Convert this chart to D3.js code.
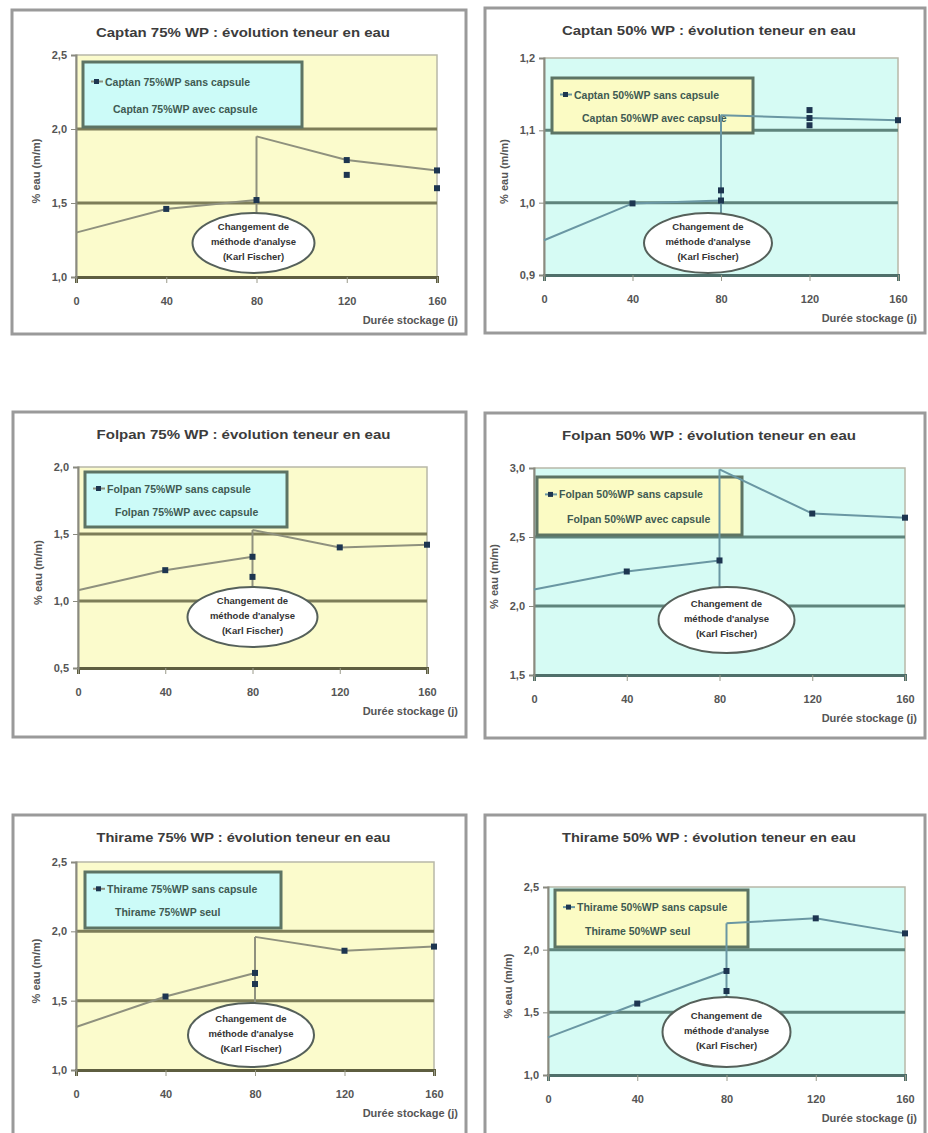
<!DOCTYPE html>
<html>
<head>
<meta charset="utf-8">
<script src="https://cdn.jsdelivr.net/npm/d3@7"></script>
<style>
  html, body { margin: 0; padding: 0; background: #ffffff; }
  svg { display: block; font-family: "Liberation Sans", Arial, sans-serif; }
</style>
</head>
<body>
<svg id="chart" width="928" height="1133"></svg>
<script>
// ---- Data -------------------------------------------------------------
const dayTicks = [0, 40, 80, 120, 160];
const beforeDays = [0, 40, 80];
const afterDays = [80, 120, 160];

const titles = [
  "Captan 75% WP : évolution teneur en eau",
  "Captan 50% WP : évolution teneur en eau",
  "Folpan 75% WP : évolution teneur en eau",
  "Folpan 50% WP : évolution teneur en eau",
  "Thirame 75% WP : évolution teneur en eau",
  "Thirame 50% WP : évolution teneur en eau"
];
const legendFirst = [
  "Captan 75%WP sans capsule", "Captan 50%WP sans capsule",
  "Folpan 75%WP sans capsule", "Folpan 50%WP sans capsule",
  "Thirame 75%WP sans capsule", "Thirame 50%WP sans capsule"
];
const legendSecond = [
  "Captan 75%WP avec capsule", "Captan 50%WP avec capsule",
  "Folpan 75%WP avec capsule", "Folpan 50%WP avec capsule",
  "Thirame 75%WP seul", "Thirame 50%WP seul"
];
const yTicks = [
  [1.0, 1.5, 2.0, 2.5],
  [0.9, 1.0, 1.1, 1.2],
  [0.5, 1.0, 1.5, 2.0],
  [1.5, 2.0, 2.5, 3.0],
  [1.0, 1.5, 2.0, 2.5],
  [1.0, 1.5, 2.0, 2.5]
];
// water content (%) before the change of analysis method (days 0, 40, 80)
const beforeValues = [
  [1.30, 1.46, 1.52],
  [0.948, 0.999, 1.003],
  [1.08, 1.23, 1.33],
  [2.12, 2.25, 2.33],
  [1.31, 1.53, 1.70],
  [1.30, 1.57, 1.83]
];
// water content (%) with the new method (days 80, 120, 160)
const afterValues = [
  [1.95, 1.79, 1.72],
  [1.121, 1.117, 1.114],
  [1.53, 1.40, 1.42],
  [2.99, 2.67, 2.64],
  [1.96, 1.86, 1.89],
  [2.21, 2.25, 2.13]
];
// second replicate measurements [day, value]
const replicates = [
  [[120, 1.69], [160, 1.60]],
  [[80, 1.017], [120, 1.128], [120, 1.107]],
  [[80, 1.18]],
  [],
  [[80, 1.62]],
  [[80, 1.67]]
];
const calloutText = ["Changement de", "méthode d'analyse", "(Karl Fischer)"];
const yAxisLabel = "% eau (m/m)";
const xAxisLabel = "Durée stockage (j)";

// ---- Layout -----------------------------------------------------------
const frames = [
  {x: 12, y: 10, w: 454, h: 324},
  {x: 485, y: 8, w: 440, h: 325},
  {x: 13, y: 412, w: 453, h: 325},
  {x: 485, y: 413, w: 440, h: 325},
  {x: 13, y: 815, w: 453, h: 330},
  {x: 485, y: 815, w: 440, h: 330}
];
const plots = [
  {x0: 76, x1: 437, y0: 55, y1: 277},
  {x0: 544, x1: 898, y0: 58, y1: 275},
  {x0: 78, x1: 427, y0: 467, y1: 668},
  {x0: 534, x1: 905, y0: 468, y1: 675},
  {x0: 76, x1: 434, y0: 862, y1: 1070},
  {x0: 548, x1: 905, y0: 887, y1: 1075}
];
const legends = [
  {x: 83, y: 62, w: 219, h: 65},
  {x: 552, y: 78, w: 201, h: 55},
  {x: 85, y: 472, w: 202, h: 55},
  {x: 537, y: 477, w: 205, h: 58},
  {x: 85, y: 872, w: 196, h: 56},
  {x: 555, y: 890, w: 193, h: 57}
];
const callouts = [
  {dx: -3, cy: 243, rx: 61, ry: 30},
  {dx: -13, cy: 243, rx: 64, ry: 30},
  {dx: 0, cy: 617, rx: 65, ry: 30},
  {dx: 7, cy: 620, rx: 68, ry: 33},
  {dx: -4, cy: 1035, rx: 63, ry: 32},
  {dx: 0, cy: 1032, rx: 64, ry: 35}
];

const themes = {
  yellow: {plot: "#fbfbcc", legend: "#ccfbf8", grid: "#7d7d58", line: "#8f917e", axis: "#5e5e40"},
  cyan:   {plot: "#d6fbf4", legend: "#fbfbc4", grid: "#5f847c", line: "#6a97a3", axis: "#4f6f6a"}
};
const fmt = v => v.toFixed(1).replace(".", ",");

const svg = d3.select("#chart");

titles.forEach((title, i) => {
  const theme = i % 2 === 0 ? themes.yellow : themes.cyan;
  const f = frames[i], p = plots[i], L = legends[i], c = callouts[i];
  const g = svg.append("g");

  // panel frame
  g.append("rect")
    .attr("x", f.x).attr("y", f.y).attr("width", f.w).attr("height", f.h)
    .attr("fill", "#ffffff").attr("stroke", "#9a9a9a").attr("stroke-width", 3);

  // title
  g.append("text")
    .attr("x", f.x + f.w / 2 + 4).attr("y", f.y + 27)
    .attr("text-anchor", "middle")
    .attr("font-size", 12.5).attr("font-weight", "bold").attr("fill", "#3c3c3c")
    .attr("textLength", 294).attr("lengthAdjust", "spacingAndGlyphs")
    .text(title);

  const ticks = yTicks[i];
  const x = d3.scaleLinear().domain([0, 160]).range([p.x0, p.x1]);
  const y = d3.scaleLinear().domain([ticks[0], ticks[ticks.length - 1]]).range([p.y1, p.y0]);

  // plot area
  g.append("rect")
    .attr("x", p.x0).attr("y", p.y0).attr("width", p.x1 - p.x0).attr("height", p.y1 - p.y0)
    .attr("fill", theme.plot).attr("stroke", "#b8b8a8").attr("stroke-width", 1.5);

  // horizontal gridlines
  g.append("g").selectAll("line")
    .data(ticks.slice(1, -1))
    .join("line")
    .attr("x1", p.x0).attr("x2", p.x1)
    .attr("y1", d => y(d)).attr("y2", d => y(d))
    .attr("stroke", theme.grid).attr("stroke-width", 3);

  // axes
  const xAxis = g.append("g")
    .attr("transform", `translate(0,${p.y1})`)
    .call(d3.axisBottom(x).tickValues(dayTicks).tickSize(6).tickPadding(14).tickFormat(d3.format("d")));
  xAxis.select(".domain").attr("stroke", theme.axis).attr("stroke-width", 3);
  xAxis.selectAll(".tick line").attr("stroke", "#9a9a8a");
  xAxis.selectAll("text").attr("font-size", 11).attr("font-weight", "bold")
    .attr("fill", "#555").attr("font-family", "Liberation Sans, Arial, sans-serif");

  const yAxis = g.append("g")
    .attr("transform", `translate(${p.x0},0)`)
    .call(d3.axisLeft(y).tickValues(ticks).tickSize(5).tickPadding(4).tickFormat(fmt));
  yAxis.select(".domain").attr("stroke", "#8a8a80").attr("stroke-width", 2);
  yAxis.selectAll(".tick line").attr("stroke", "#8a8a80");
  yAxis.selectAll("text").attr("font-size", 11).attr("font-weight", "bold")
    .attr("fill", "#555").attr("font-family", "Liberation Sans, Arial, sans-serif");

  // axis titles
  g.append("text")
    .attr("transform", `translate(${p.x0 - 36},${(p.y0 + p.y1) / 2 + 5}) rotate(-90)`)
    .attr("text-anchor", "middle")
    .attr("font-size", 11).attr("font-weight", "bold").attr("fill", "#555")
    .text(yAxisLabel);
  g.append("text")
    .attr("x", f.x + f.w - 8).attr("y", p.y1 + 47)
    .attr("text-anchor", "end")
    .attr("font-size", 11).attr("font-weight", "bold").attr("fill", "#555")
    .text(xAxisLabel);

  // legend
  const lg = g.append("g");
  lg.append("rect")
    .attr("x", L.x).attr("y", L.y).attr("width", L.w).attr("height", L.h)
    .attr("fill", theme.legend).attr("stroke", "#5d7464").attr("stroke-width", 3);
  lg.append("line")
    .attr("x1", L.x + 8).attr("x2", L.x + 20)
    .attr("y1", L.y + L.h * 0.3).attr("y2", L.y + L.h * 0.3)
    .attr("stroke", theme.line).attr("stroke-width", 2);
  lg.append("rect")
    .attr("x", L.x + 11).attr("y", L.y + L.h * 0.3 - 2.5).attr("width", 5).attr("height", 5)
    .attr("fill", "#1d3550");
  lg.append("text")
    .attr("x", L.x + 22).attr("y", L.y + L.h * 0.3 + 4)
    .attr("font-size", 10.5).attr("font-weight", "bold").attr("fill", "#3f5a52")
    .text(legendFirst[i]);
  lg.append("text")
    .attr("x", L.x + 30).attr("y", L.y + L.h * 0.72 + 4)
    .attr("font-size", 10.5).attr("font-weight", "bold").attr("fill", "#3f5a52")
    .text(legendSecond[i]);

  // leader from the callout bubble up to the new-method value at day 80
  const cx = x(80) + c.dx;
  g.append("line")
    .attr("x1", x(80)).attr("x2", x(80))
    .attr("y1", y(afterValues[i][0])).attr("y2", c.cy - c.ry)
    .attr("stroke", theme.line).attr("stroke-width", 2);

  // series lines
  const line = d3.line().x(d => x(d[0])).y(d => y(d[1]));
  const before = beforeDays.map((d, k) => [d, beforeValues[i][k]]);
  const after = afterDays.map((d, k) => [d, afterValues[i][k]]);
  g.append("path").datum(before).attr("d", line)
    .attr("fill", "none").attr("stroke", theme.line).attr("stroke-width", 2);
  g.append("path").datum(after).attr("d", line)
    .attr("fill", "none").attr("stroke", theme.line).attr("stroke-width", 2);

  g.append("ellipse")
    .attr("cx", cx).attr("cy", c.cy).attr("rx", c.rx).attr("ry", c.ry)
    .attr("fill", "#ffffff").attr("stroke", "#55605a").attr("stroke-width", 2);
  g.append("text")
    .attr("x", cx).attr("y", c.cy - 13)
    .attr("text-anchor", "middle")
    .attr("font-size", 9.5).attr("font-weight", "bold").attr("fill", "#333")
    .selectAll("tspan")
    .data(calloutText)
    .join("tspan")
    .attr("x", cx).attr("dy", (d, k) => k === 0 ? 0 : 15)
    .text(d => d);

  // markers
  const marked = before.slice(1).concat(after.slice(1)).concat(replicates[i]);
  g.append("g").selectAll("rect")
    .data(marked)
    .join("rect")
    .attr("x", d => x(d[0]) - 3).attr("y", d => y(d[1]) - 3)
    .attr("width", 6).attr("height", 6)
    .attr("fill", "#1d3550");
});
</script>
</body>
</html>
